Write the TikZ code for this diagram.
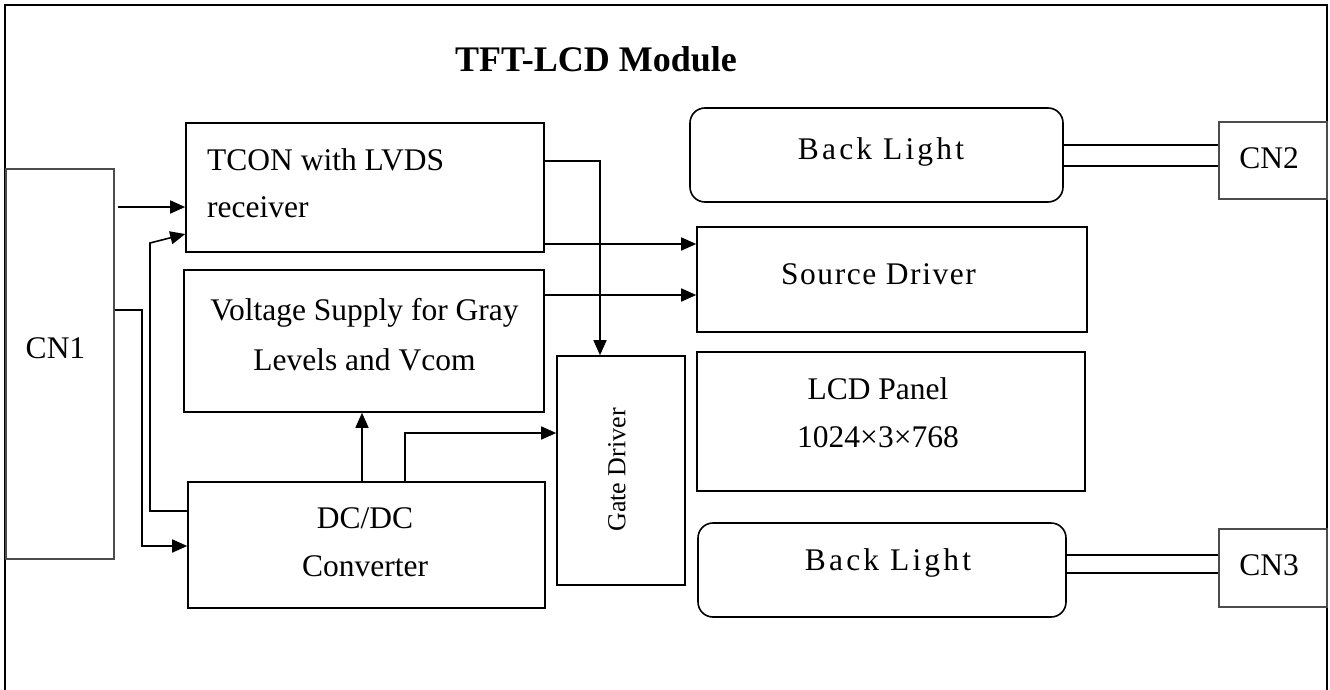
\documentclass[tikz,border=0pt]{standalone}
\usepackage{fontspec}
\setmainfont{Liberation Serif}
\newfontfamily\blfont{Liberation Serif}[LetterSpace=10]
\newfontfamily\sdfont{Liberation Serif}[LetterSpace=5]
\usetikzlibrary{arrows.meta}

\begin{document}
\begin{tikzpicture}[x=1pt,y=-1pt,
  blk/.style={draw, line width=1.6pt, inner sep=0pt},
  conbox/.style={draw=black!70, line width=1.4pt, inner sep=0pt},
  lamp/.style={blk, rounded corners=15pt},
  wire/.style={line width=1.6pt},
  arr/.style={wire, -{Triangle[length=15pt,width=13pt]}},
  txt/.style={font=\fontsize{31.5}{48}\selectfont, inner sep=0pt, anchor=base, align=center},
  title/.style={font=\fontsize{36}{40}\selectfont\bfseries, inner sep=0pt, anchor=base west},
  gtxt/.style={font=\fontsize{26}{30}\selectfont, inner sep=0pt, rotate=90}]

\useasboundingbox (0,0) rectangle (1330,690);

% module outline (open at the bottom edge of the page)
\draw[line width=1.8pt] (5,700) -- (5,5) -- (1327,5) -- (1327,700);

% blocks
\node[blk, minimum width=358pt, minimum height=129pt] (tcon) at (365,187.5) {};
\node[blk, minimum width=360pt, minimum height=142pt] (volt) at (364,341) {};
\node[blk, minimum width=357pt, minimum height=126pt] (dcdc) at (366.5,545) {};
\node[conbox, minimum width=108pt, minimum height=390pt] (cn1) at (60,364) {};
\node[blk, minimum width=128pt, minimum height=229pt] (gate) at (621,470.5) {};
\node[blk, minimum width=390pt, minimum height=105pt] (src) at (892,279.5) {};
\node[blk, minimum width=388pt, minimum height=139pt] (lcd) at (891,421.5) {};
\node[lamp, minimum width=373pt, minimum height=94pt] (bl1) at (876.5,155) {};
\node[lamp, minimum width=368pt, minimum height=94pt] (bl2) at (882,570) {};
\node[conbox, minimum width=108pt, minimum height=77pt] (cn2) at (1273,160.5) {};
\node[conbox, minimum width=108pt, minimum height=78pt] (cn3) at (1273,568) {};

% labels (multi-line labels are placed by the baseline of their last line)
\node[title] (ttl) at (455,72) {TFT-LCD Module};
\node[txt, anchor=base west, align=left, font=\fontsize{31.5}{47}\selectfont] (tcon-t) at (207,217) {TCON with LVDS\\receiver};
\node[txt, font=\fontsize{31.5}{50}\selectfont] (volt-t) at (364.5,370) {Voltage Supply for Gray\\Levels and Vcom};
\node[txt] (dcdc-t) at (365,576) {DC/DC\\Converter};
\node[txt] (cn1-t) at (55.5,358) {CN1};
\node[txt] (bl1-t) at (881,160) {\blfont Back Light};
\node[txt] (src-t) at (878.5,284) {\sdfont Source Driver};
\node[txt] (lcd-t) at (878,447) {LCD Panel\\1024×3×768};
\node[txt] (bl2-t) at (888,570) {\blfont Back Light};
\node[txt] (cn2-t) at (1269,168) {CN2};
\node[txt] (cn3-t) at (1269,575) {CN3};
\node[gtxt] (gate-t) at (617,470) {Gate Driver};

% signal paths
\draw[arr] ([xshift=3pt]cn1.east |- 0,207) -- (tcon.west |- 0,207);
\draw[arr] (dcdc.west |- 0,511) -- (150,511) -- (150,243) -- (tcon.west |- 0,234);
\draw[arr] (cn1.east |- 0,310) -- (142,310) -- (142,546) -- (dcdc.west |- 0,546);
\draw[arr] (tcon.east |- 0,161) -- (600,161) -- (gate.north -| 600,0);
\draw[arr] (tcon.east |- 0,244) -- (src.west |- 0,244);
\draw[arr] (volt.east |- 0,295) -- (src.west |- 0,295);
\draw[arr] (dcdc.north -| 362,0) -- (volt.south -| 362,0);
\draw[arr] (dcdc.north -| 405,0) -- (405,433) -- (gate.west |- 0,433);

% backlight cables
\draw[wire] (bl1.east |- 0,145) -- (cn2.west |- 0,145);
\draw[wire] (bl1.east |- 0,166) -- (cn2.west |- 0,166);
\draw[wire] (bl2.east |- 0,555) -- (cn3.west |- 0,555);
\draw[wire] (bl2.east |- 0,573) -- (cn3.west |- 0,573);
\end{tikzpicture}
\end{document}
